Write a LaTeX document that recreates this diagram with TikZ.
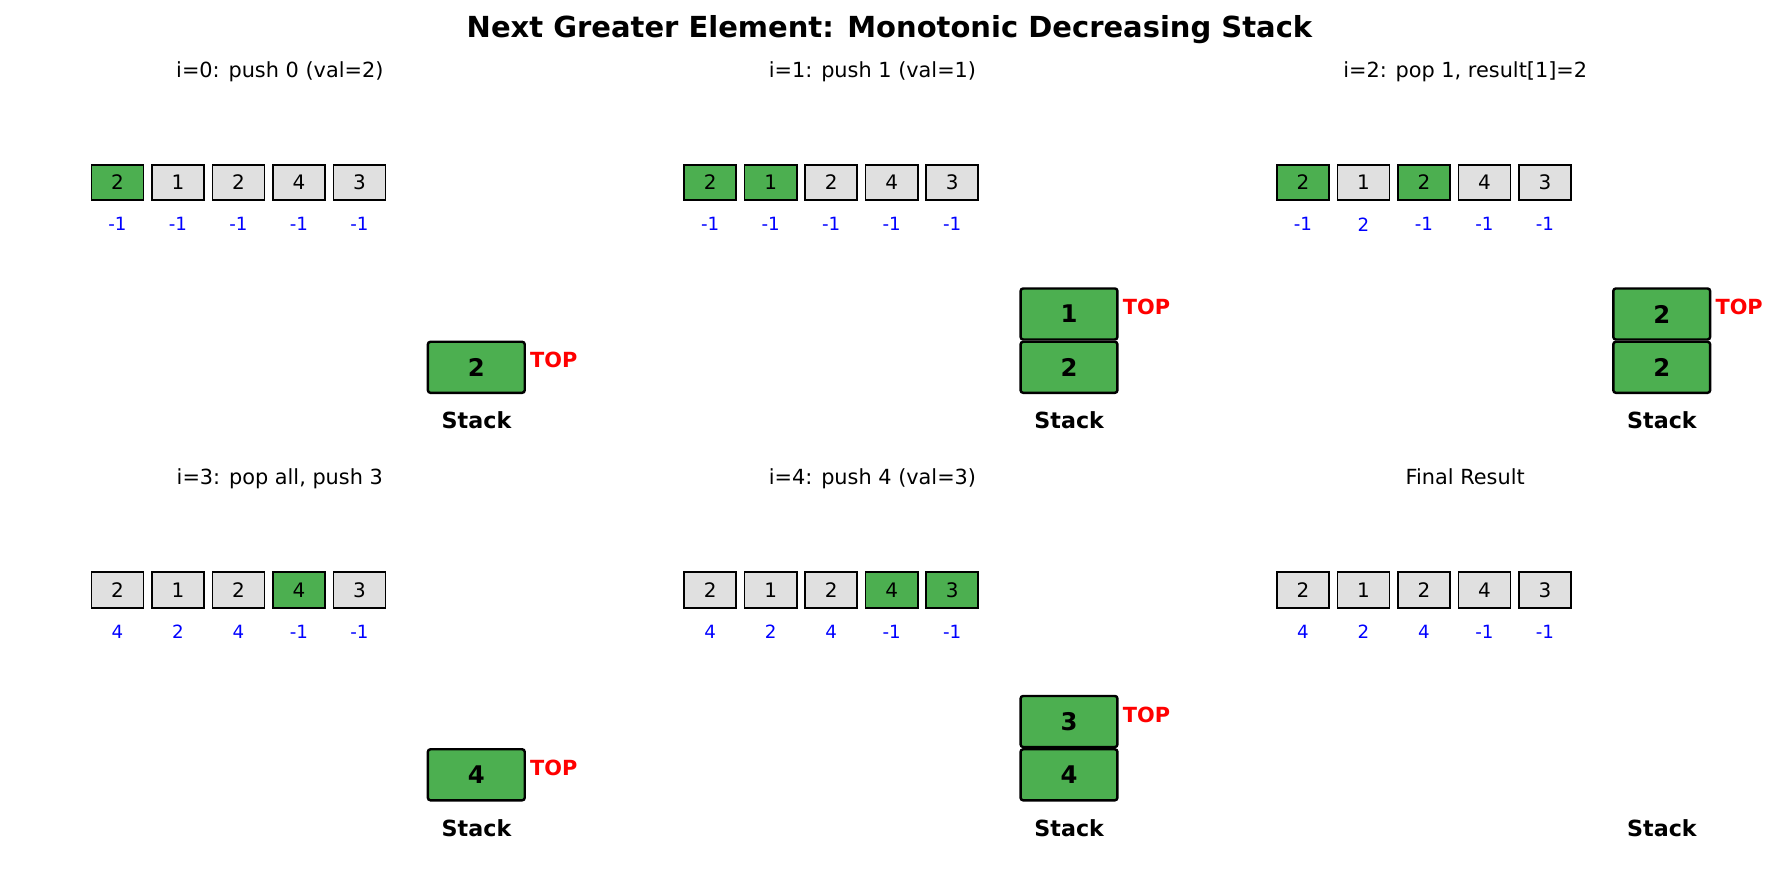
\documentclass[tikz,border=0pt]{standalone}
\usepackage{fontspec}
\setmainfont{DejaVu Sans}
\usetikzlibrary{positioning}

\definecolor{pushgreen}{HTML}{4CAF50}
\definecolor{cellgray}{HTML}{E0E0E0}

\begin{document}
\begin{tikzpicture}[x=0.576pt, y=-0.576pt,
  cell/.style={rectangle, draw=black, line width=0.95pt, fill=cellgray,
               minimum width=30pt, minimum height=20.4pt, inner sep=0pt,
               font=\fontsize{11.5}{13}\selectfont},
  cell0/.style={cell},
  cell1/.style={cell, fill=pushgreen},
  res/.style={text=blue, inner sep=0pt, font=\fontsize{10.5}{12}\selectfont},
  slot/.style={rectangle, rounded corners=1.5pt, draw=black, line width=1.4pt,
               fill=pushgreen, minimum width=55.8pt, minimum height=29.4pt,
               inner sep=0pt, font=\fontsize{14}{16}\selectfont\bfseries},
  toplbl/.style={text=red, inner sep=0pt, font=\fontsize{12}{14}\selectfont\bfseries},
  stacklbl/.style={anchor=base, font=\fontsize{12.8}{15}\selectfont\bfseries},
  ptitle/.style={anchor=base, font=\fontsize{12}{14}\selectfont}]

\useasboundingbox (0,0) rectangle (1776,889);

% main title
\node[anchor=base, font=\fontsize{16.7}{20}\selectfont\bfseries] (title)
     at (889.5,37.8) {Next Greater Element: Monotonic Decreasing Stack};

% panels: array, results, stack caption
\foreach \col/\row/\ttl/\hi/\res in {
    0/0/{i=0: push 0 (val=2)}/{1,0,0,0,0}/{-1,-1,-1,-1,-1},
    1/0/{i=1: push 1 (val=1)}/{1,1,0,0,0}/{-1,-1,-1,-1,-1},
    2/0/{i=2: pop 1, result[1]=2}/{1,0,1,0,0}/{-1,2,-1,-1,-1},
    0/1/{i=3: pop all, push 3}/{0,0,0,1,0}/{4,2,4,-1,-1},
    1/1/{i=4: push 4 (val=3)}/{0,0,0,1,1}/{4,2,4,-1,-1},
    2/1/{Final Result}/{0,0,0,0,0}/{4,2,4,-1,-1}} {
  \node[ptitle] (p-\col-\row) at ({279.8+592.7*\col},{77.3+407.5*\row}) {\ttl};
  \foreach \h [count=\i from 0] in \hi {
    \pgfmathtruncatemacro\val{{2,1,2,4,3}[\i]}
    \node[cell\h] (a-\col-\row-\i)
         at ({117.5+60.5*\i+592.7*\col},{182.5+407.5*\row}) {\val};
  }
  \foreach \t [count=\i from 0] in \res
    \node[res, below=9.4pt of a-\col-\row-\i] (r-\col-\row-\i) {\t};
  \node[stacklbl] (k-\col-\row) at ({476.5+592.7*\col},{428.8+407.5*\row}) {Stack};
}

% stack slots, bottom first
\foreach \col/\row/\k/\v in {0/0/1/2, 1/0/1/2, 1/0/2/1, 2/0/1/2, 2/0/2/2,
                              0/1/1/4, 1/1/1/4, 1/1/2/3}
  \node[slot] (s-\col-\row-\k)
       at ({476.3+592.7*\col},{367.3-53.3*(\k-1)+407.5*\row}) {\v};

% top markers
\foreach \col/\row/\k in {0/0/1, 1/0/2, 2/0/2, 0/1/1, 1/1/2}
  \node[toplbl, right=2.2pt of s-\col-\row-\k, yshift=4pt] (t-\col-\row) {TOP};

\end{tikzpicture}
\end{document}
